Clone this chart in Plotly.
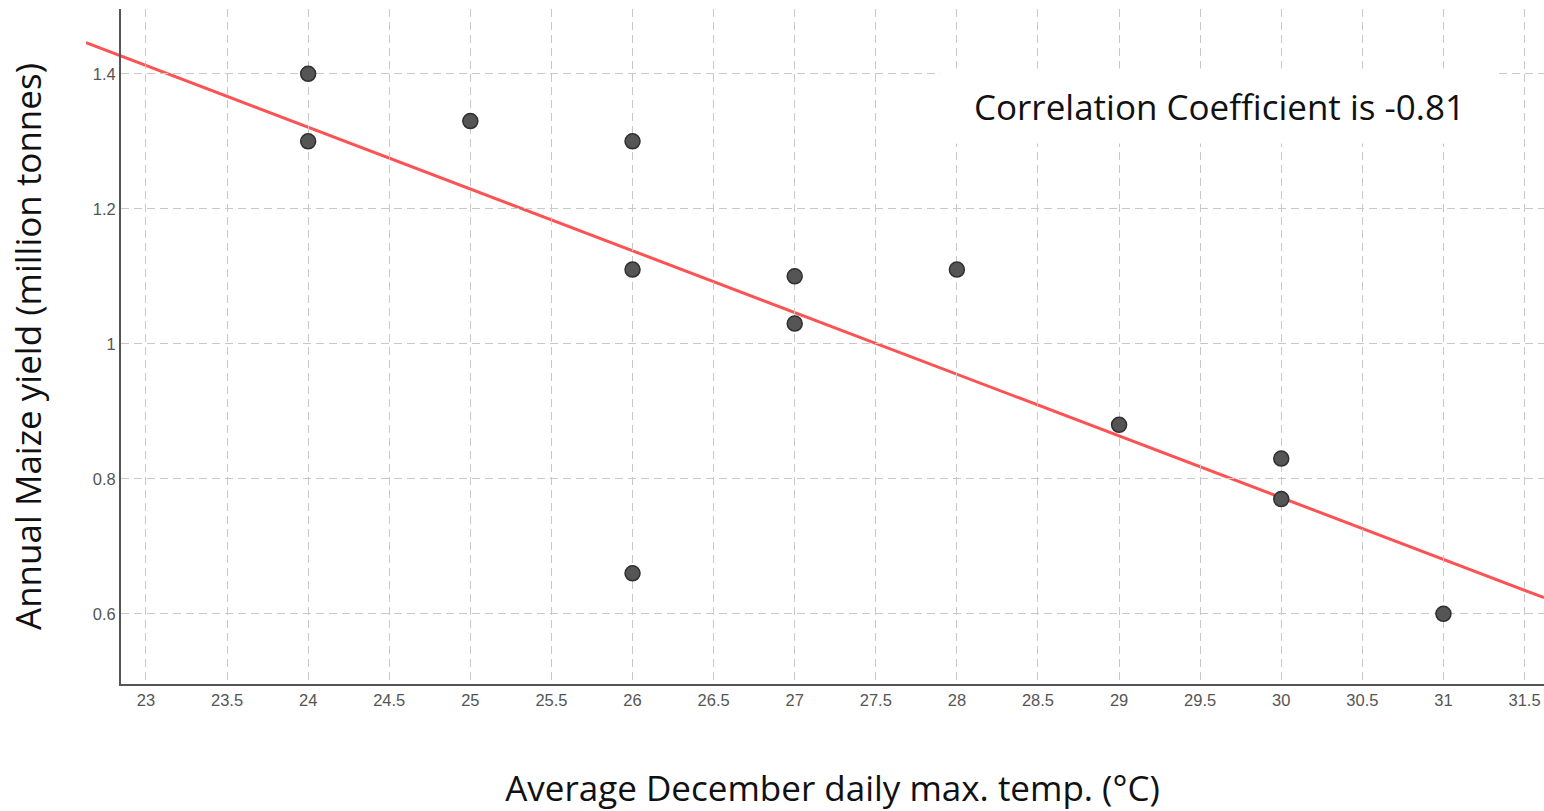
import numpy as np
import plotly.graph_objects as go

temp = [24, 24, 25, 26, 26, 26, 27, 27, 28, 29, 30, 30, 31]
yield_mt = [1.40, 1.30, 1.33, 1.30, 1.11, 0.66, 1.10, 1.03, 1.11, 0.88, 0.83, 0.77, 0.60]
x_ticks = [23, 23.5, 24, 24.5, 25, 25.5, 26, 26.5, 27, 27.5, 28, 28.5, 29, 29.5, 30, 30.5, 31, 31.5]
y_ticks = [0.6, 0.8, 1.0, 1.2, 1.4]
y_tick_text = ["0.6", "0.8", "1", "1.2", "1.4"]
corr_text = "Correlation Coefficient is -0.81"

W, H = 1544, 811
ML, MT, MB = 86, 9, 127          # outer plotting region (fit line overhangs the y axis)
AXIS_LEFT_PX = 121               # where the visible y axis sits
xr = [22.846, 31.62]
yr = [0.496, 1.496]

plot_w = W - ML
dom0 = (AXIS_LEFT_PX - ML) / plot_w
px_per_unit = (plot_w * (1 - dom0)) / (xr[1] - xr[0])
xr_wide = [xr[0] - (AXIS_LEFT_PX - ML) / px_per_unit, xr[1]]

slope, intercept = np.polyfit(temp, yield_mt, 1)
lx = np.array(xr_wide)
ly = slope * lx + intercept

fig = go.Figure()
# fit line on the wide invisible axis pair (same scale as the visible axes)
fig.add_trace(go.Scatter(x=lx, y=ly, mode="lines", xaxis="x", yaxis="y",
                         line=dict(color="#ff5252", width=3), showlegend=False))
# points on the visible axes
fig.add_trace(go.Scatter(x=temp, y=yield_mt, mode="markers", xaxis="x2", yaxis="y2",
                         marker=dict(size=15, color="#555555",
                                     line=dict(color="#2f2f2f", width=1.5)),
                         showlegend=False))

fig.add_annotation(xref="paper", yref="paper",
                   x=dom0 + (1219 - AXIS_LEFT_PX) / plot_w, y=(H - MB - 106) / (H - MB - MT),
                   text=corr_text, showarrow=False,
                   font=dict(family="Open Sans", size=35, color="#111111"),
                   bgcolor="white", width=555, height=72, xanchor="center", yanchor="middle")

title_font = dict(family="Open Sans", size=35, color="#111111")
tick_font = dict(family="Liberation Sans, Arial", size=16.5, color="#555555")
grid_col = "#c8c8c8"

fig.update_layout(
    width=W, height=H,
    margin=dict(l=ML, r=0, t=MT, b=MB, autoexpand=False),
    plot_bgcolor="rgba(0,0,0,0)", paper_bgcolor="white",
    xaxis=dict(domain=[0, 1], range=xr_wide, anchor="y", visible=False),
    yaxis=dict(domain=[0, 1], range=yr, anchor="x", visible=False),
    xaxis2=dict(domain=[dom0, 1], range=xr, anchor="y2", tickvals=x_ticks,
                ticktext=[f"{v:g}" for v in x_ticks], automargin=False,
                showgrid=True, gridcolor=grid_col, griddash="8px,5px", gridwidth=1,
                showline=True, linecolor="#555555", linewidth=2, zeroline=False,
                ticks="", tickfont=tick_font,
                title=dict(text="Average December daily max. temp. (°C)",
                           font=title_font, standoff=80)),
    yaxis2=dict(domain=[0, 1], range=yr, anchor="x2", tickvals=y_ticks, ticktext=y_tick_text,
                automargin=False,
                showgrid=True, gridcolor=grid_col, griddash="8px,5px", gridwidth=1,
                showline=True, linecolor="#555555", linewidth=2, zeroline=False,
                ticks="", tickfont=tick_font,
                title=dict(text="Annual Maize yield (million tonnes)",
                           font=title_font, standoff=41)),
)

fig.write_html("out.html", config={"displayModeBar": False},
               post_script="document.body.style.margin='0';document.body.style.overflow='hidden';")
